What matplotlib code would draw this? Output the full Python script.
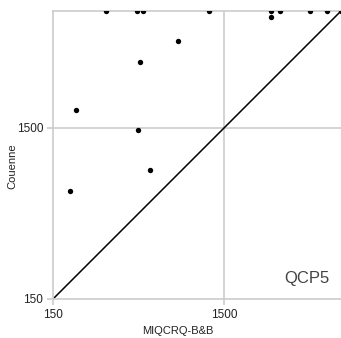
import matplotlib
matplotlib.use("Agg")
import matplotlib.pyplot as plt
import numpy as np

plt.rcParams['font.family'] = ['Liberation Sans', 'DejaVu Sans']

# Data (seconds): MIQCRQ-B&B (x) vs Couenne (y); 7200 = time limit
x_vals = [305, 465, 506, 1221, 2823, 2823, 3189, 4729, 5979, 7200,
          804, 482, 204, 473, 552, 188]
y_vals = [7200, 7200, 7200, 7200, 7200, 6630, 7200, 7200, 7200, 7200,
          4795, 3647, 1904, 1446, 849, 642]
ticks = [150, 1500]
lims = [150, 7200]

W, H = 341, 338
fig = plt.figure(figsize=(W / 100, H / 100), dpi=100)
ax = fig.add_axes([53 / W, 1 - 299 / H, (341 - 53) / W, (299 - 11) / H])
ax.set_xscale('log')
ax.set_yscale('log')
ax.set_xlim(lims)
ax.set_ylim(lims)

grid_c = '#cccccc'
for t in ticks[1:]:
    ax.axvline(t, color=grid_c, lw=1.2, zorder=0)
    ax.axhline(t, color=grid_c, lw=1.2, zorder=0)

ax.plot(lims, lims, color='black', lw=1.1, zorder=2)
ax.scatter(x_vals, y_vals, s=15, color='black', zorder=3, linewidths=0)

for s in ['left', 'bottom', 'top']:
    ax.spines[s].set_color(grid_c)
    ax.spines[s].set_linewidth(1.2)
ax.spines['right'].set_visible(False)

ax.xaxis.set_minor_locator(matplotlib.ticker.NullLocator())
ax.yaxis.set_minor_locator(matplotlib.ticker.NullLocator())
ax.set_xticks(ticks)
ax.set_yticks(ticks)
ax.set_xticklabels([str(t) for t in ticks])
ax.set_yticklabels([str(t) for t in ticks])
ax.tick_params(length=4, color=grid_c, width=1.2, labelsize=8.5,
               labelcolor='#222222', pad=3)

ax.text(0.96, 0.045, 'QCP5', transform=ax.transAxes, ha='right', va='bottom',
        fontsize=12, color='#444444')

fig.text(178 / W, 1 - 331 / H, 'MIQCRQ-B&B', ha='center', va='center',
         fontsize=8, color='#222222')
fig.text(12 / W, 1 - 166 / H, 'Couenne', ha='center', va='center',
         rotation=90, fontsize=8, color='#222222')

fig.savefig('out.png', dpi=100)
